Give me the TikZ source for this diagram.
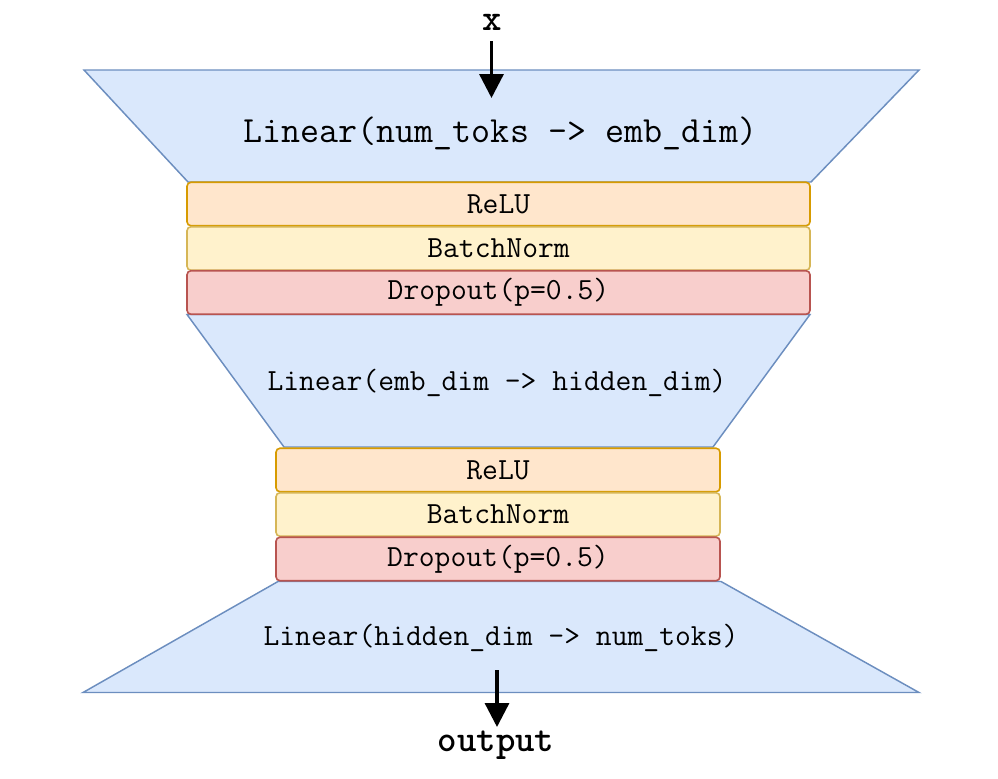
\documentclass[tikz,border=0pt]{standalone}
\usepackage{fontspec}
\usetikzlibrary{arrows.meta}
\definecolor{bluef}{HTML}{DAE8FC}
\definecolor{bluel}{HTML}{6C8EBF}
\definecolor{orangef}{HTML}{FFE6CC}
\definecolor{orangel}{HTML}{D79B00}
\definecolor{yellowf}{HTML}{FFF2CC}
\definecolor{yellowl}{HTML}{D6B656}
\definecolor{redf}{HTML}{F8CECC}
\definecolor{redl}{HTML}{B85450}
\begin{document}
\begin{tikzpicture}[x=0.75pt,y=-0.75pt,
  trap/.style={fill=bluef,draw=bluel,line width=1.1pt,line join=miter},
  lbl/.style={font=\ttfamily\fontsize{23.05}{26}\selectfont,inner sep=0pt,text=black},
  biglbl/.style={font=\ttfamily\fontsize{27.7}{30}\selectfont,inner sep=0pt,text=black},
  iolbl/.style={font=\ttfamily\bfseries\fontsize{27.8}{30}\selectfont,inner sep=0pt,text=black},
  layer/.style={rounded corners=3pt,line width=1.2pt,inner sep=0pt,
    font=\ttfamily\fontsize{23.05}{26}\selectfont,text=black},
  widebox/.style={layer,minimum width=623*0.75pt,minimum height=43.5*0.75pt},
  narrowbox/.style={layer,minimum width=444*0.75pt,minimum height=43.5*0.75pt},
  relu/.style={fill=orangef,draw=orangel},
  bn/.style={fill=yellowf,draw=yellowl},
  drop/.style={fill=redf,draw=redl},
  flow/.style={line width=2.5pt,-{Triangle[width=18pt,length=18pt]}}
]
\useasboundingbox (0,0) rectangle (998,778);

% trapezoids
\path[trap] (84,70) -- (919,70) -- (811,182) -- (188,182) -- cycle;
\path[trap] (187,314.5) -- (810,314.5) -- (713,447) -- (284,447) -- cycle;
\path[trap] (278,581.5) -- (721,581.5) -- (919,692.5) -- (83,692.5) -- cycle;

\node[biglbl] (lin1) at (500.5,133) {Linear(num\_toks -> emb\_dim)};
\node[lbl] (lin2) at (497,383) {Linear(emb\_dim -> hidden\_dim)};
\node[lbl] (lin3) at (501,638) {Linear(hidden\_dim -> num\_toks)};

% first block
\node[widebox,relu] (relu1) at (498.5,204) {ReLU};
\node[widebox,bn] (bn1) at (498.5,248.5) {BatchNorm};
\node[widebox,drop] (drop1) at (498.5,292.5) {Dropout(p=0.5)};

% second block
\node[narrowbox,relu] (relu2) at (498,470) {ReLU};
\node[narrowbox,bn] (bn2) at (498,514.5) {BatchNorm};
\node[narrowbox,drop] (drop2) at (498,559) {Dropout(p=0.5)};

% input / output
\node[iolbl] (x) at (492,22) {x};
\coordinate (xin) at (491.5,98);
\draw[flow] (491.5,41) -- (xin);

\coordinate (outstart) at (497,670);
\node[iolbl] (out) at (496,745) {output};
\draw[flow] (outstart) -- (497,727);
\end{tikzpicture}
\end{document}
